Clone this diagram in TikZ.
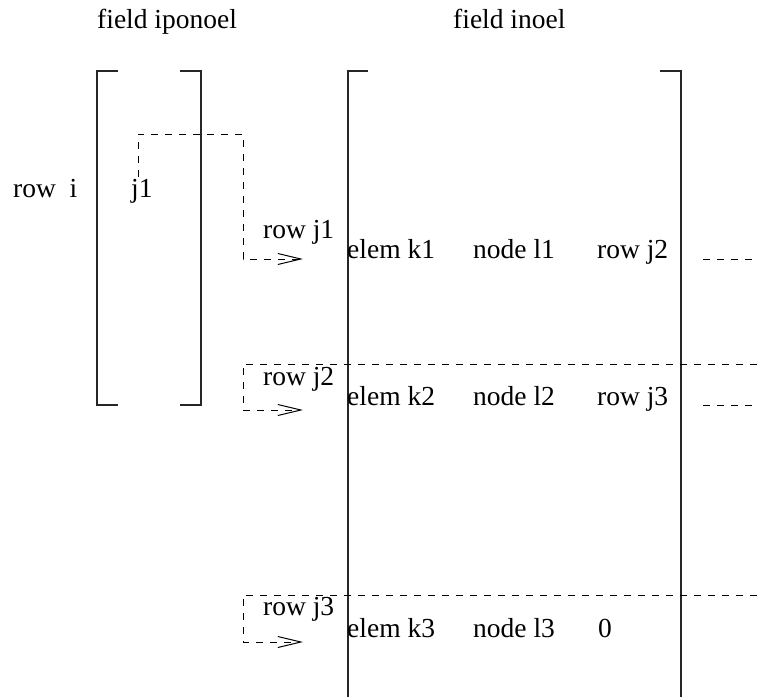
\documentclass[tikz,border=0pt]{standalone}
\usepackage{fontspec}
\setmainfont{Liberation Serif}
\usetikzlibrary{arrows.meta}
\begin{document}
\begin{tikzpicture}[x=1pt,y=-1pt,
  lbl/.style={anchor=base west,inner sep=0pt,font=\fontsize{27.5}{32}\selectfont},
  solidline/.style={line width=1.4pt,black!85},
  dashline/.style={line width=1pt,dash pattern=on 7pt off 7pt},
  ptr/.style={dashline,-{Straight Barb[length=23pt,width=11pt,line width=1pt]}}]
\useasboundingbox (0,0) rectangle (757,696);
% headers
\node[lbl] (h1) at (97,28) {field iponoel};
\node[lbl] (h2) at (453,28) {field inoel};
% left bracket
\draw[solidline] (118,71) -- (97,71) -- (97,405) -- (118,405);
\draw[solidline] (180,71) -- (201,71) -- (201,405) -- (180,405);
% right big bracket
\draw[solidline] (368,71) -- (348,71) -- (348,700);
\draw[solidline] (660,71) -- (681,71) -- (681,700);
% left labels
\node[lbl] (rowi) at (13,197) {row~~i};
\node[lbl] (j1) at (131,197) {j1};
% row labels
\node[lbl] (rj1) at (263,238) {row j1};
\node[lbl] (rj2) at (263,385) {row j2};
\node[lbl] (rj3) at (263,615) {row j3};
% table entries
\node[lbl] (e1) at (347,258) {elem k1};
\node[lbl] (n1) at (473,258) {node l1};
\node[lbl] (r1) at (597,258) {row j2};
\node[lbl] (e2) at (347,405) {elem k2};
\node[lbl] (n2) at (473,405) {node l2};
\node[lbl] (r2) at (597,405) {row j3};
\node[lbl] (e3) at (347,637) {elem k3};
\node[lbl] (n3) at (473,637) {node l3};
\node[lbl] (z3) at (598,637) {0};
% coordinates for pointers
\coordinate (p1s) at (138,177);
\coordinate (p1a) at (138,134);
\coordinate (p1b) at (243,134);
\coordinate (p1c) at (243,259);
\coordinate (p1t) at (303,259);
\coordinate (p2s) at (757,364);
\coordinate (p2a) at (243,364);
\coordinate (p2c) at (243,410);
\coordinate (p2t) at (303,410);
\coordinate (p3s) at (757,595);
\coordinate (p3a) at (243,595);
\coordinate (p3c) at (243,642);
\coordinate (p3t) at (303,642);
\coordinate (d1a) at (703,259);
\coordinate (d1b) at (757,259);
\coordinate (d2a) at (703,405);
\coordinate (d2b) at (757,405);
% pointers
\draw[ptr] (p1s) -- (p1a) -- (p1b) -- (p1c) -- (p1t);
\draw[ptr] (p2s) -- (p2a) -- (p2c) -- (p2t);
\draw[ptr] (p3s) -- (p3a) -- (p3c) -- (p3t);
\draw[dashline] (d1a) -- (d1b);
\draw[dashline] (d2a) -- (d2b);
\end{tikzpicture}
\end{document}
